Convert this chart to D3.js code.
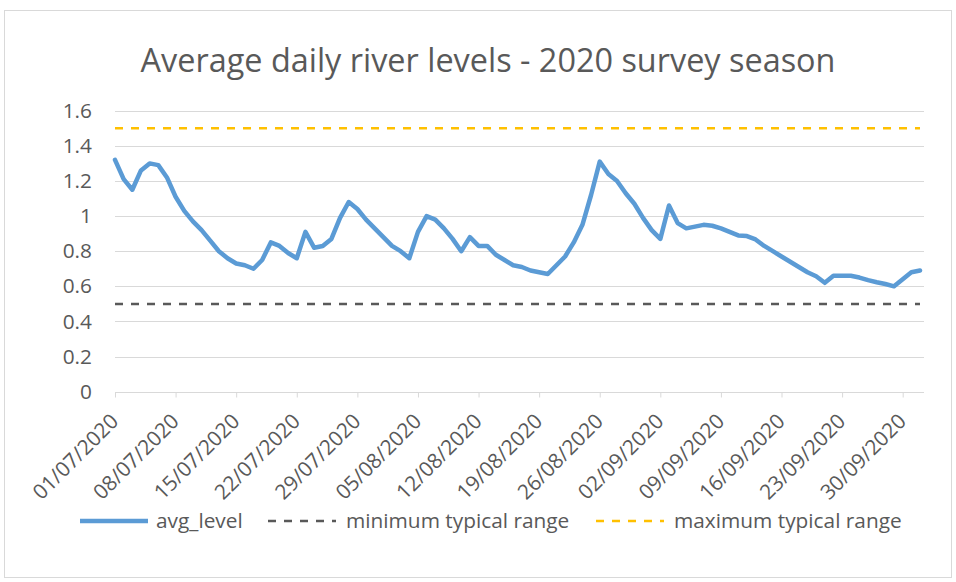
<!DOCTYPE html>
<html><head><meta charset="utf-8">
<script src="https://cdn.jsdelivr.net/npm/d3@7"></script>
<style>body{margin:0;background:#fff}</style>
</head><body>
<svg id="c" width="956" height="582"></svg>
<script>
const chartTitle = "Average daily river levels - 2020 survey season";
const startDate = "2020-07-01";
const endDate = "2020-10-02";
const avgLevel = [
  1.32,1.21,1.15,1.26,1.30,1.29,1.22,1.11,1.03,0.97,
  0.92,0.86,0.80,0.76,0.73,0.72,0.70,0.75,0.85,0.83,
  0.79,0.76,0.91,0.82,0.83,0.87,0.99,1.08,1.04,0.98,
  0.93,0.88,0.83,0.80,0.76,0.91,1.00,0.98,0.93,0.87,
  0.80,0.88,0.83,0.83,0.78,0.75,0.72,0.71,0.69,0.68,
  0.67,0.72,0.77,0.85,0.95,1.12,1.31,1.24,1.20,1.13,
  1.07,0.99,0.92,0.87,1.06,0.96,0.93,0.94,0.95,0.945,
  0.93,0.91,0.89,0.886,0.867,0.83,0.80,0.77,0.74,0.71,
  0.68,0.657,0.62,0.66,0.66,0.66,0.65,0.635,0.623,0.613,
  0.60,0.64,0.68,0.69
];
const minTypical = 0.5;
const maxTypical = 1.5;
const yTicks = [0,0.2,0.4,0.6,0.8,1,1.2,1.4,1.6];
const xTickLabels = ["01/07/2020","08/07/2020","15/07/2020","22/07/2020","29/07/2020","05/08/2020","12/08/2020","19/08/2020","26/08/2020","02/09/2020","09/09/2020","16/09/2020","23/09/2020","30/09/2020"];
const seriesNames = ["avg_level","minimum typical range","maximum typical range"];
const colors = {avg:"#5b9bd5", min:"#595959", max:"#ffc000"};

const FONT = "'Open Sans', 'Noto Sans', sans-serif";
const svg = d3.select("#c");
const parseDMY = d3.utcParse("%d/%m/%Y");
const parseISO = d3.utcParse("%Y-%m-%d");
const dates = avgLevel.map((v,i)=> d3.utcDay.offset(parseISO(startDate), i));
const data = avgLevel.map((v,i)=>({date:dates[i], value:v}));

// chart border
svg.append("rect").attr("x",4.5).attr("y",10.5).attr("width",947).attr("height",567)
  .attr("fill","#fff").attr("stroke","#d9d9d9").attr("stroke-width",1);

const x = d3.scaleUtc().domain([parseISO(startDate), parseISO(endDate)]).range([115, 920]);
const y = d3.scaleLinear().domain([0,1.6]).range([391.7, 110.7]);
const plotRight = 924;

function measure(text, size){
  const t = svg.append("text").attr("font-family",FONT).attr("font-size",size).text(text);
  const w = t.node().getComputedTextLength(); t.remove(); return w;
}
const titleSize = 100*695/measure(chartTitle,100);
const smallSize = titleSize*9/14;

// gridlines
svg.append("g").selectAll("line").data(yTicks.slice(1)).join("line")
  .attr("x1",115).attr("x2",plotRight)
  .attr("y1",d=>Math.round(y(d))+0.5).attr("y2",d=>Math.round(y(d))+0.5)
  .attr("stroke","#d9d9d9").attr("stroke-width",1);

// y axis labels
const yAxis = d3.axisLeft(y).tickValues(yTicks).tickSize(0).tickPadding(0).tickFormat(d3.format("~g"));
const gy = svg.append("g").attr("transform","translate(92,0)").call(yAxis);
gy.select(".domain").remove();
gy.selectAll("text").attr("font-family",FONT).attr("font-size",smallSize).attr("fill","#595959");

// x axis
const xTickDates = xTickLabels.map(parseDMY);
const xAxis = d3.axisBottom(x).tickValues(xTickDates).tickSize(5).tickFormat(d=>d3.utcFormat("%d/%m/%Y")(d));
const gx = svg.append("g").attr("transform",`translate(0,${Math.round(y(0))+0.5})`).call(xAxis);
gx.select(".domain").attr("d",`M115,0H${plotRight}`).attr("stroke","#d9d9d9");
gx.selectAll(".tick line").attr("stroke","#d9d9d9");
gx.selectAll(".tick text")
  .attr("font-family",FONT).attr("font-size",smallSize).attr("fill","#595959")
  .attr("text-anchor","end").attr("dy","0.35em").attr("y",0)
  .attr("transform","translate(-1,25) rotate(-45)");

// reference lines
const refLine = (val,color)=> svg.append("line")
  .attr("x1",115).attr("x2",920).attr("y1",y(val)).attr("y2",y(val))
  .attr("stroke",color).attr("stroke-width",2.5).attr("stroke-dasharray","8,8");
refLine(minTypical, colors.min);
refLine(maxTypical, colors.max);

// main line
const line = d3.line().x(d=>x(d.date)).y(d=>y(d.value)).curve(d3.curveLinear);
svg.append("path").datum(data).attr("d",line).attr("fill","none")
  .attr("stroke",colors.avg).attr("stroke-width",4.5)
  .attr("stroke-linejoin","round").attr("stroke-linecap","round");

// title
svg.append("text").attr("x",488).attr("y",61).attr("dy","0.35em").attr("text-anchor","middle")
  .attr("font-family",FONT).attr("font-size",titleSize).attr("fill","#595959").text(chartTitle);

// legend
const legY = 521;
const leg = svg.append("g");
const items = [
  {name:seriesNames[0], color:colors.avg, dash:null, w:4.5, x0:80, x1:148, tx:156},
  {name:seriesNames[1], color:colors.min, dash:"8,8", w:2.5, x0:268, x1:336, tx:346},
  {name:seriesNames[2], color:colors.max, dash:"8,8", w:2.5, x0:596, x1:664, tx:674}
];
items.forEach(it=>{
  leg.append("line").attr("x1",it.x0).attr("x2",it.x1).attr("y1",legY).attr("y2",legY)
    .attr("stroke",it.color).attr("stroke-width",it.w).attr("stroke-dasharray",it.dash);
  leg.append("text").attr("x",it.tx).attr("y",legY).attr("dy","0.35em")
    .attr("font-family",FONT).attr("font-size",smallSize).attr("fill","#595959").text(it.name);
});
</script>
</body></html>
